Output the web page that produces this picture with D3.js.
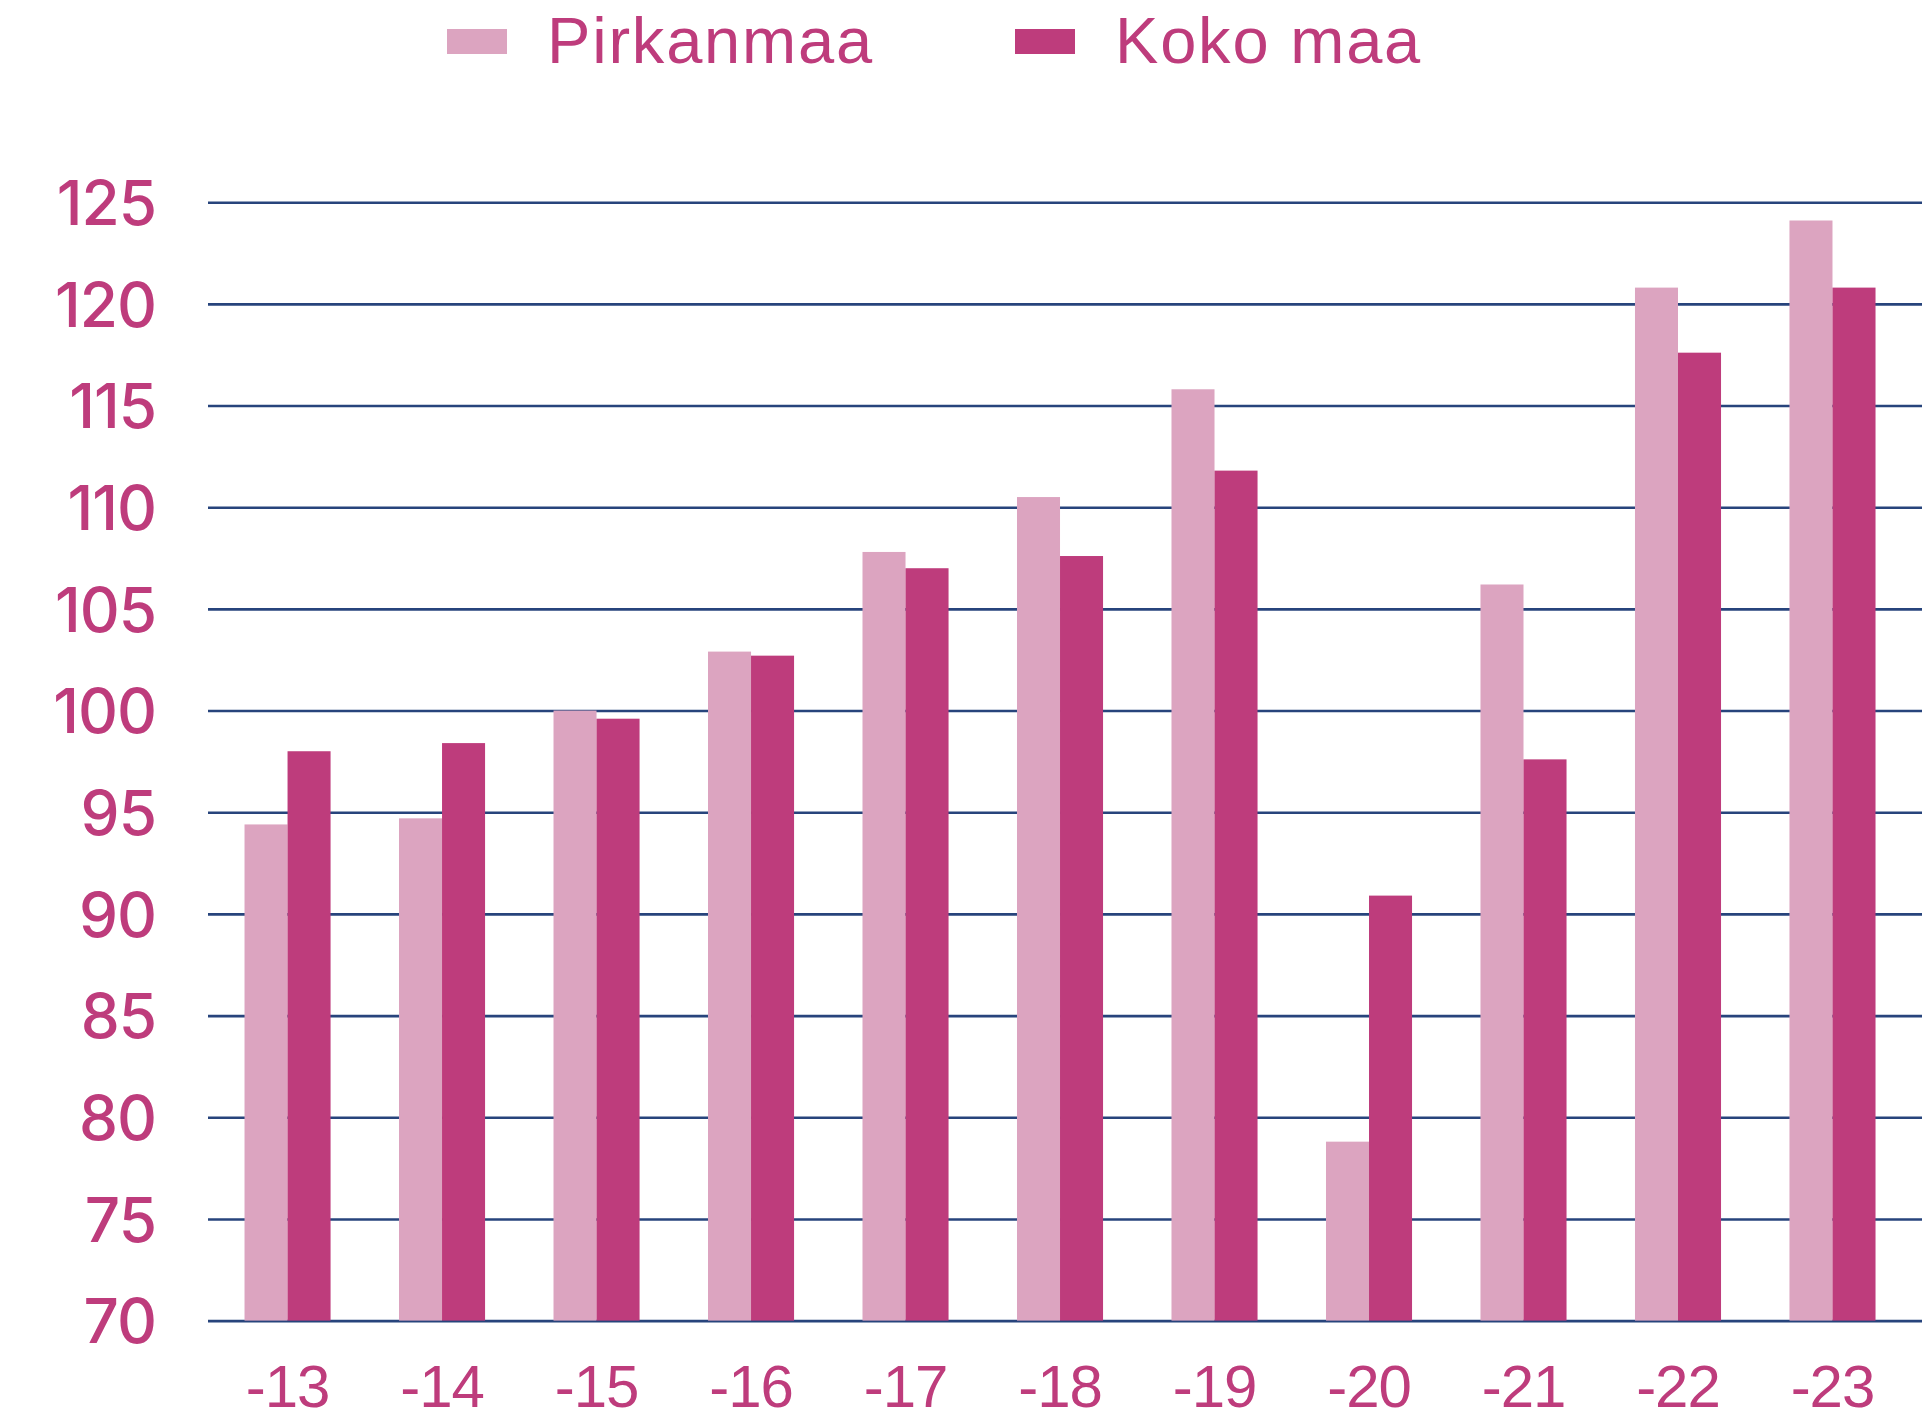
<!DOCTYPE html>
<html>
<head>
<meta charset="utf-8">
<script src="https://cdn.jsdelivr.net/npm/d3@7"></script>
<style>
  html, body { margin: 0; padding: 0; background: #ffffff; }
  svg { display: block; }
</style>
</head>
<body>
<svg id="chart" width="1922" height="1421"></svg>
<script>
// Years shown on the x axis
const years = ["-13", "-14", "-15", "-16", "-17", "-18", "-19", "-20", "-21", "-22", "-23"];
// Series names (legend order)
const seriesNames = ["Pirkanmaa", "Koko maa"];
// Index values per year
const pirkanmaa = [94.4, 94.7, 100.0, 102.9, 107.8, 110.5, 115.8, 78.8, 106.2, 120.8, 124.1];
const kokoMaa   = [98.0, 98.4, 99.6, 102.7, 107.0, 107.6, 111.8, 90.9, 97.6, 117.6, 120.8];
// Y axis ticks
const yTicks = [70, 75, 80, 85, 90, 95, 100, 105, 110, 115, 120, 125];

const colors = { "Pirkanmaa": "#dca4c0", "Koko maa": "#be3c7c" };
const textColor = "#be3c7c";
const gridColor = "#27447c";

const plot = { left: 208, right: 1922, top: 202.2, bottom: 1320.6 };

const rows = years.map((yr, i) => ({
  year: yr,
  values: [
    { key: "Pirkanmaa", value: pirkanmaa[i] },
    { key: "Koko maa", value: kokoMaa[i] }
  ]
}));

const svg = d3.select("#chart");

const y = d3.scaleLinear()
  .domain([70, 125])
  .range([plot.bottom, plot.top]);

const x0 = d3.scaleBand()
  .domain(years)
  .range([plot.left, plot.right])
  .paddingInner(0.443)
  .paddingOuter(0.2686)
  .align(0.44);

const x1 = d3.scaleBand()
  .domain(seriesNames)
  .range([0, x0.bandwidth()])
  .padding(0);

// Horizontal grid lines with value labels
const yAxis = svg.append("g")
  .attr("transform", `translate(${plot.left},0)`)
  .call(d3.axisLeft(y)
    .tickValues(yTicks)
    .tickSize(-(plot.right - plot.left))
    .tickPadding(52)
    .tickFormat(d3.format("d")));

yAxis.select(".domain").remove();
yAxis.selectAll(".tick line")
  .attr("stroke", gridColor)
  .attr("stroke-width", 2.6);
yAxis.selectAll(".tick text")
  .attr("fill", textColor)
  .attr("font-family", "Inter, 'Noto Sans', sans-serif")
  .attr("font-weight", 500)
  .attr("font-size", 62)
  .attr("letter-spacing", "-1px")
  .attr("dy", "0.36em");

// Grouped bars
const groups = svg.append("g")
  .selectAll("g")
  .data(rows)
  .join("g")
  .attr("transform", d => `translate(${x0(d.year)},0)`);

groups.selectAll("rect")
  .data(d => d.values)
  .join("rect")
  .attr("x", d => x1(d.key))
  .attr("y", d => y(d.value))
  .attr("width", x1.bandwidth())
  .attr("height", d => y(70) - y(d.value))
  .attr("fill", d => colors[d.key]);

// Year labels
const xAxis = svg.append("g")
  .attr("transform", `translate(0,${plot.bottom})`)
  .call(d3.axisBottom(x0).tickSize(0).tickPadding(44));

xAxis.select(".domain").remove();
xAxis.selectAll(".tick text")
  .attr("fill", textColor)
  .attr("font-family", "'Liberation Sans Narrow', 'Liberation Sans', sans-serif")
  .attr("font-stretch", "condensed")
  .attr("font-weight", 400)
  .attr("font-size", 60)
  .attr("letter-spacing", "-1px");

// Legend
const legendItems = [
  { key: "Pirkanmaa", x: 447 },
  { key: "Koko maa", x: 1015 }
];
const legend = svg.append("g");
const li = legend.selectAll("g")
  .data(legendItems)
  .join("g")
  .attr("transform", d => `translate(${d.x},0)`);

li.append("rect")
  .attr("x", 0)
  .attr("y", 29)
  .attr("width", 60)
  .attr("height", 25)
  .attr("fill", d => colors[d.key]);

li.append("text")
  .attr("x", 100)
  .attr("y", 63)
  .attr("fill", textColor)
  .attr("font-family", "'Liberation Sans', Arial, sans-serif")
  .attr("font-size", 65)
  .attr("letter-spacing", "1.8px")
  .text(d => d.key);
</script>
</body>
</html>
